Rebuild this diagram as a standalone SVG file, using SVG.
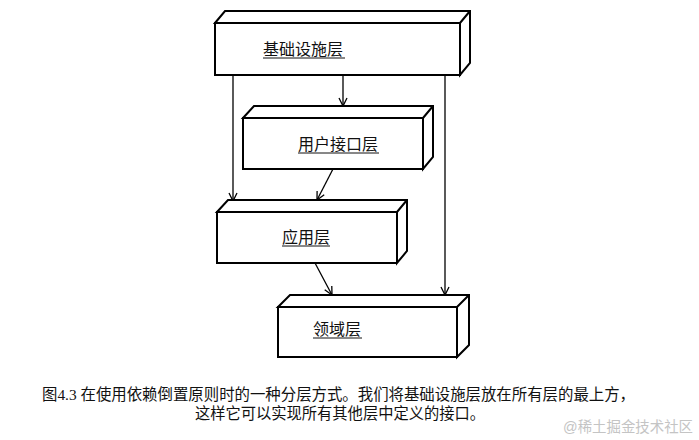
<svg xmlns="http://www.w3.org/2000/svg" width="699" height="440" viewBox="0 0 699 440">
<style>
.box{fill:#fff;stroke:#000;stroke-width:2;stroke-linejoin:miter}
.lbl{font-family:"Liberation Sans","Noto Sans CJK SC",sans-serif;font-size:16px;fill:#111}
.ul{stroke:#111;stroke-width:1}
.conn{fill:none;stroke:#000;stroke-width:1.3}
.cap{font-family:"Liberation Serif","Noto Sans CJK SC",serif;font-size:15.5px;fill:#111}
.wm{font-family:"Liberation Sans","Noto Sans CJK SC",sans-serif;font-size:15px;fill:#c4c4c4}
</style>
<defs>
<marker id="arr" markerWidth="12" markerHeight="12" refX="9" refY="5" orient="auto" markerUnits="userSpaceOnUse">
<path d="M1,1 L9,5 L1,9" fill="none" stroke="#000" stroke-width="1.3"/>
</marker>
</defs>
<rect width="699" height="440" fill="#fff"/>
<g id="connectors">
<line class="conn" x1="233" y1="75" x2="233" y2="201" marker-end="url(#arr)"/>
<line class="conn" x1="343" y1="75" x2="343" y2="106" marker-end="url(#arr)"/>
<line class="conn" x1="445" y1="75" x2="445" y2="295" marker-end="url(#arr)"/>
<line class="conn" x1="333" y1="169" x2="317" y2="200" marker-end="url(#arr)"/>
<line class="conn" x1="315" y1="263" x2="332" y2="295" marker-end="url(#arr)"/>
</g>
<g id="infra">
<path class="box" d="M215,23 L225,11 L470,11 L470,63 L460,75 L460,23 Z M215,23 H460 V75 H215 Z M460,23 L470,11"/>
<text class="lbl" x="263" y="55">基础设施层</text>
<line class="ul" x1="263" y1="58" x2="345" y2="58"/>
</g>
<g id="ui">
<path class="box" d="M243,118 L254,106 L433,106 L433,157 L423,169 L423,118 Z M243,118 H423 V169 H243 Z M423,118 L433,106"/>
<text class="lbl" x="298" y="150">用户接口层</text>
<line class="ul" x1="298" y1="153" x2="379" y2="153"/>
</g>
<g id="app">
<path class="box" d="M217,212 L228,200 L407,200 L407,251 L397,263 L397,212 Z M217,212 H397 V263 H217 Z M397,212 L407,200"/>
<text class="lbl" x="282" y="243">应用层</text>
<line class="ul" x1="282" y1="246" x2="330" y2="246"/>
</g>
<g id="domain">
<path class="box" d="M278,307 L290,295 L469,295 L469,345 L457,357 L457,307 Z M278,307 H457 V357 H278 Z M457,307 L469,295"/>
<text class="lbl" x="313" y="335">领域层</text>
<line class="ul" x1="313" y1="338" x2="362" y2="338"/>
</g>
<g id="caption">
<text class="cap" x="42" y="400" textLength="593" lengthAdjust="spacingAndGlyphs">图4.3 在使用依赖倒置原则时的一种分层方式。我们将基础设施层放在所有层的最上方，</text>
<text class="cap" x="195" y="419" textLength="290" lengthAdjust="spacingAndGlyphs">这样它可以实现所有其他层中定义的接口。</text>
<text class="wm" x="563" y="432" textLength="130" lengthAdjust="spacingAndGlyphs">@稀土掘金技术社区</text>
</g>
</svg>
